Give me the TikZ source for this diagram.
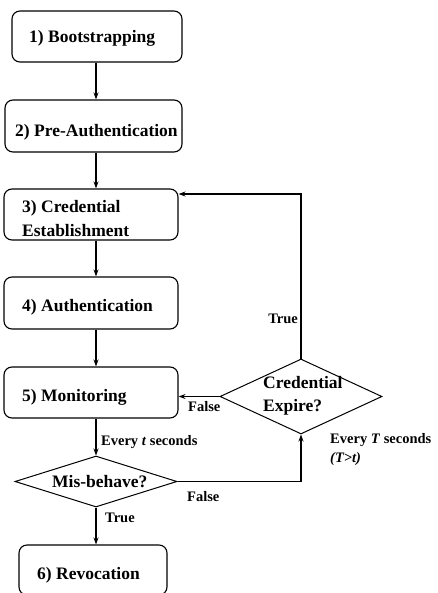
\documentclass[tikz,border=0pt]{standalone}
\usepackage{fontspec}
\setmainfont{Liberation Serif}
\usetikzlibrary{shapes.geometric,arrows.meta}
\begin{document}
\begin{tikzpicture}[x=1pt,y=-1pt,
  box/.style={draw=black, line width=1.1pt, rounded corners=8pt, inner sep=0pt},
  dia/.style={draw=black, diamond, line width=1pt, inner sep=0pt},
  txt/.style={font=\fontsize{17.5}{23.5}\selectfont\bfseries, anchor=west, inner sep=0pt, align=left},
  lbl/.style={font=\fontsize{14.5}{19}\selectfont\bfseries, anchor=west, inner sep=0pt, align=left},
  arr/.style={line width=1.1pt, -{Stealth[length=7pt,width=5pt]}}]
\useasboundingbox (0,0) rectangle (437,593);
% boxes
\node[box, minimum width=170pt, minimum height=51pt] (b1) at (97,36.5) {};
\node[box, minimum width=177pt, minimum height=52pt] (b2) at (93.5,126) {};
\node[box, minimum width=174pt, minimum height=51pt] (b3) at (91,214.5) {};
\node[box, minimum width=174pt, minimum height=52pt] (b4) at (91,303) {};
\node[box, minimum width=174pt, minimum height=51pt] (b5) at (91,392.5) {};
\node[box, minimum width=148pt, minimum height=50pt] (b6) at (93,570) {};
\node[dia, minimum width=162pt, minimum height=51pt] (mis) at (96,481.5) {};
\node[dia, minimum width=162pt, minimum height=75pt] (cred) at (301,396.5) {};
% texts
\node[txt] (t1) at (29,38) {1) Bootstrapping};
\node[txt] (t2) at (15,132) {2) Pre-Authentication};
\node[txt] (t3) at (22,218.5) {3) Credential\\Establishment};
\node[txt] (t4) at (22,307) {4) Authentication};
\node[txt] (t5) at (22,397) {5) Monitoring};
\node[txt] (t6) at (37,575) {6) Revocation};
\node[txt] (tm) at (52,482) {Mis-behave?};
\node[txt] (tc) at (263,396) {Credential\\Expire?};
% labels
\node[lbl] (l1) at (101,442) {Every \textit{t} seconds};
\node[lbl] (l2) at (105,518) {True};
\node[lbl] (l3) at (187,497) {False};
\node[lbl] (l4) at (188,407) {False};
\node[lbl, anchor=east] (l5) at (298,319) {True};
\node[lbl] (l6) at (330,450) {Every \textit{T} seconds\\\textit{(T>t)}};
% connectors
\coordinate (ax) at (96,0);
\draw[arr] (ax |- b1.south) -- (ax |- b2.north);
\draw[arr] (ax |- b2.south) -- (ax |- b3.north);
\draw[arr] (ax |- b3.south) -- (ax |- b4.north);
\draw[arr] (ax |- b4.south) -- (ax |- b5.north);
\draw[arr] (ax |- b5.south) -- (mis.north);
\draw[arr] (mis.south) -- (ax |- b6.north);
\draw[arr] (mis.east) -| (cred.south);
\draw[arr] (cred.west) -- (cred.west -| b5.east);
\draw[arr] (cred.north) |- ([yshift=20.5pt]b3.east);
\end{tikzpicture}
\end{document}
